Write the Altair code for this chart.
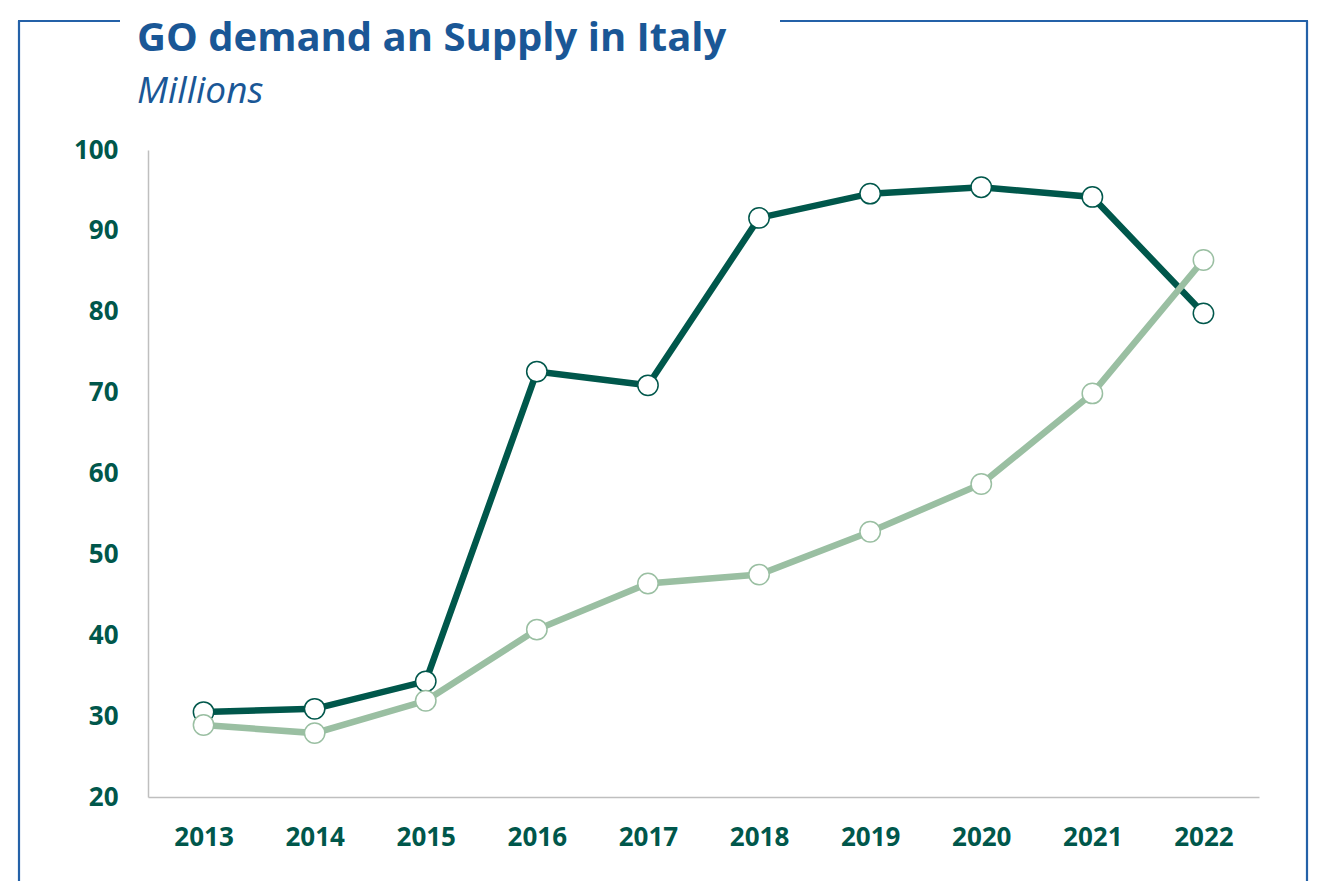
import altair as alt
import pandas as pd

years = ["2013", "2014", "2015", "2016", "2017", "2018", "2019", "2020", "2021", "2022"]
demand = [30.5, 30.9, 34.3, 72.6, 70.9, 91.6, 94.6, 95.4, 94.2, 79.8]
supply = [28.9, 27.9, 31.9, 40.7, 46.4, 47.5, 52.8, 58.7, 69.9, 86.4]

title_text = "GO demand an Supply in Italy"
subtitle_text = "Millions"

DARK = "#00574b"
LIGHT = "#9abfa2"
BLUE = "#1a5796"
FRAME = "#2461a8"
FONT = "Open Sans"

df_d = pd.DataFrame({"year": years, "value": demand})
df_s = pd.DataFrame({"year": years, "value": supply})

x_enc = alt.X(
    "year:O",
    scale=alt.Scale(type="point", padding=0.5),
    axis=alt.Axis(
        title=None, labelAngle=0, ticks=False, tickSize=0, grid=False,
        domainColor="#bfbfbf", domainWidth=1.5,
        labelFont=FONT, labelFontSize=26, labelFontWeight="bold",
        labelColor=DARK, labelPadding=27,
    ),
)
y_enc = alt.Y(
    "value:Q",
    scale=alt.Scale(domain=[20, 100], nice=False, zero=False),
    axis=alt.Axis(
        title=None, values=[20, 30, 40, 50, 60, 70, 80, 90, 100],
        ticks=False, tickSize=0, grid=False,
        domainColor="#bfbfbf", domainWidth=1.5,
        labelFont=FONT, labelFontSize=26, labelFontWeight="bold",
        labelColor=DARK, labelPadding=30,
    ),
)


def series(df, color):
    base = alt.Chart(df).encode(x=x_enc, y=y_enc)
    line = base.mark_line(color=color, strokeWidth=6.5)
    pts = base.mark_point(
        shape="circle", filled=True, fill="white", stroke=color,
        strokeWidth=1.5, size=415, opacity=1,
    )
    return line + pts


one = pd.DataFrame({"k": [0]})


def rule(x, x2, y, y2):
    return alt.Chart(one).mark_rule(color=FRAME, strokeWidth=2.2).encode(
        x=alt.value(x), x2=alt.value(x2), y=alt.value(y), y2=alt.value(y2)
    )


frame = (
    rule(-129, -129, -129, 740)
    + rule(1159, 1159, -129, 740)
    + rule(-130, -28, -129, -129)
    + rule(632, 1160, -129, -129)
)

title = alt.Chart(one).mark_text(
    text=title_text, font=FONT, fontSize=40, fontWeight="bold", color=BLUE,
    align="left", baseline="alphabetic",
).encode(x=alt.value(-11), y=alt.value(-99))

subtitle = alt.Chart(one).mark_text(
    text=subtitle_text, font=FONT, fontSize=37, fontStyle="italic", color=BLUE,
    align="left", baseline="alphabetic",
).encode(x=alt.value(-11), y=alt.value(-47))

chart = (
    alt.layer(frame, series(df_d, DARK), series(df_s, LIGHT), title, subtitle)
    .properties(
        width=1111, height=647,
        background="white",
        autosize=alt.AutoSizeParams(type="none"),
        padding={"left": 140, "top": 142, "right": 52, "bottom": 84},
    )
    .configure_view(stroke=None, strokeWidth=0)
)

chart.save("out.html", embed_options={"renderer": "svg", "actions": False})
